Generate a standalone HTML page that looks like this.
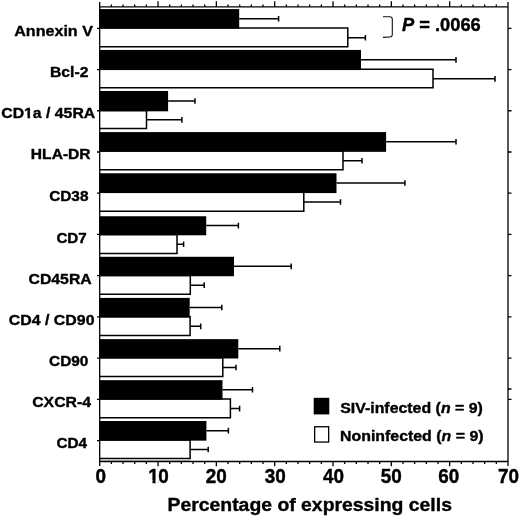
<!DOCTYPE html>
<html lang="en"><head><meta charset="utf-8"><title>Percentage of expressing cells</title>
<style>html,body{margin:0;padding:0;background:#fff;overflow:hidden}svg{display:block;will-change:transform;filter:grayscale(1)}text{font-family:"Liberation Sans",Arial,Helvetica,sans-serif;font-weight:bold;fill:#000;stroke:#000;stroke-width:0.4px;stroke-linejoin:round}</style>
</head><body>
<svg width="520" height="517" viewBox="0 0 520 517">
<rect width="520" height="517" fill="#fff"/>
<g stroke="#000" stroke-width="1.5">
<rect x="99.7" y="9.10" width="139.5" height="19.55" fill="#000" stroke="none"/>
<path d="M99.7 27.90H347.8V46.85H99.7" fill="none"/>
<path d="M239.2 18.70H278.6M278.6 15.90V21.50" fill="none"/>
<path d="M347.8 37.67H365.4M365.4 34.88V40.47" fill="none"/>
<rect x="99.7" y="49.93" width="261.3" height="20.15" fill="#000" stroke="none"/>
<path d="M99.7 69.33H433.0V87.73H99.7" fill="none"/>
<path d="M361.0 59.83H456.0M456.0 57.03V62.63" fill="none"/>
<path d="M433.0 78.83H495.0M495.0 76.03V81.63" fill="none"/>
<rect x="99.7" y="90.96" width="68.4" height="20.35" fill="#000" stroke="none"/>
<path d="M99.7 110.56H146.5V128.51H99.7" fill="none"/>
<path d="M168.1 100.96H195.0M195.0 98.16V103.76" fill="none"/>
<path d="M146.5 119.83H181.9M181.9 117.03V122.63" fill="none"/>
<rect x="99.7" y="132.09" width="286.4" height="19.75" fill="#000" stroke="none"/>
<path d="M99.7 151.09H343.0V169.84H99.7" fill="none"/>
<path d="M386.1 141.79H456.0M456.0 138.99V144.59" fill="none"/>
<path d="M343.0 160.77H362.0M362.0 157.97V163.57" fill="none"/>
<rect x="99.7" y="173.27" width="236.8" height="19.80" fill="#000" stroke="none"/>
<path d="M99.7 192.32H303.8V211.22H99.7" fill="none"/>
<path d="M336.5 182.99H404.9M404.9 180.19V185.79" fill="none"/>
<path d="M303.8 202.07H340.5M340.5 199.27V204.87" fill="none"/>
<rect x="99.7" y="216.25" width="106.5" height="19.05" fill="#000" stroke="none"/>
<path d="M99.7 234.55H177.0V253.45H99.7" fill="none"/>
<path d="M206.2 225.60H238.4M238.4 222.80V228.40" fill="none"/>
<path d="M177.0 244.30H183.6M183.6 241.50V247.10" fill="none"/>
<rect x="99.7" y="256.78" width="134.3" height="19.45" fill="#000" stroke="none"/>
<path d="M99.7 275.48H190.3V294.23H99.7" fill="none"/>
<path d="M234.0 266.33H291.2M291.2 263.53V269.13" fill="none"/>
<path d="M190.3 285.16H204.2M204.2 282.36V287.96" fill="none"/>
<rect x="99.7" y="297.91" width="90.0" height="19.55" fill="#000" stroke="none"/>
<path d="M99.7 316.71H190.1V335.41H99.7" fill="none"/>
<path d="M189.7 307.51H221.8M221.8 304.71V310.31" fill="none"/>
<path d="M190.1 326.36H200.7M200.7 323.56V329.16" fill="none"/>
<rect x="99.7" y="339.14" width="138.6" height="19.35" fill="#000" stroke="none"/>
<path d="M99.7 357.74H222.8V376.59H99.7" fill="none"/>
<path d="M238.3 348.64H279.8M279.8 345.84V351.44" fill="none"/>
<path d="M222.8 367.46H236.0M236.0 364.66V370.26" fill="none"/>
<rect x="99.7" y="380.17" width="122.8" height="19.55" fill="#000" stroke="none"/>
<path d="M99.7 398.97H230.4V417.67H99.7" fill="none"/>
<path d="M222.5 389.77H252.5M252.5 386.97V392.57" fill="none"/>
<path d="M230.4 408.62H239.6M239.6 405.82V411.42" fill="none"/>
<rect x="99.7" y="421.00" width="106.7" height="19.65" fill="#000" stroke="none"/>
<path d="M99.7 439.90H190.1V458.60H99.7" fill="none"/>
<path d="M206.4 430.65H228.4M228.4 427.85V433.45" fill="none"/>
<path d="M190.1 449.55H208.2M208.2 446.75V452.35" fill="none"/>
</g>
<rect x="99.7" y="459.20" width="90.4" height="1.70" fill="#c4c4c4"/>
<g stroke="#000" stroke-width="1.3" fill="none">
<path d="M99.7 2V466M508.0 2V466M99.7 6.9H508.0M99.7 461.5H508.0"/>
<path d="M111.37 6.9V4.4M111.37 461.5V464M123.03 6.9V4.4M123.03 461.5V464M134.70 6.9V4.4M134.70 461.5V464M146.36 6.9V4.4M146.36 461.5V464M158.03 6.9V1.2M158.03 461.5V466.3M169.69 6.9V4.4M169.69 461.5V464M181.36 6.9V4.4M181.36 461.5V464M193.03 6.9V4.4M193.03 461.5V464M204.69 6.9V4.4M204.69 461.5V464M216.36 6.9V1.2M216.36 461.5V466.3M228.02 6.9V4.4M228.02 461.5V464M239.69 6.9V4.4M239.69 461.5V464M251.35 6.9V4.4M251.35 461.5V464M263.02 6.9V4.4M263.02 461.5V464M274.69 6.9V1.2M274.69 461.5V466.3M286.35 6.9V4.4M286.35 461.5V464M298.02 6.9V4.4M298.02 461.5V464M309.68 6.9V4.4M309.68 461.5V464M321.35 6.9V4.4M321.35 461.5V464M333.01 6.9V1.2M333.01 461.5V466.3M344.68 6.9V4.4M344.68 461.5V464M356.35 6.9V4.4M356.35 461.5V464M368.01 6.9V4.4M368.01 461.5V464M379.68 6.9V4.4M379.68 461.5V464M391.34 6.9V1.2M391.34 461.5V466.3M403.01 6.9V4.4M403.01 461.5V464M414.67 6.9V4.4M414.67 461.5V464M426.34 6.9V4.4M426.34 461.5V464M438.01 6.9V4.4M438.01 461.5V464M449.67 6.9V1.2M449.67 461.5V466.3M461.34 6.9V4.4M461.34 461.5V464M473.00 6.9V4.4M473.00 461.5V464M484.67 6.9V4.4M484.67 461.5V464M496.33 6.9V4.4M496.33 461.5V464"/>
<path d="M97 28.30H99.7M508.0 28.30H511.5M97 69.53H99.7M508.0 69.53H511.5M97 110.76H99.7M508.0 110.76H511.5M97 151.99H99.7M508.0 151.99H511.5M97 193.22H99.7M508.0 193.22H511.5M97 234.45H99.7M508.0 234.45H511.5M97 275.68H99.7M508.0 275.68H511.5M97 316.91H99.7M508.0 316.91H511.5M97 358.14H99.7M508.0 358.14H511.5M97 399.37H99.7M508.0 399.37H511.5M97 440.60H99.7M508.0 389.00H511.5"/>
</g>
<g text-anchor="end">
<text transform="translate(92.9,36.40) scale(1,0.94)" font-size="16.1">Annexin V</text>
<text transform="translate(88.4,77.12) scale(1,0.94)" font-size="15.7">Bcl-2</text>
<text transform="translate(95.2,118.44) scale(1,0.94)" font-size="15.8">CD1a / 45RA</text>
<text transform="translate(90.6,159.36) scale(1,0.94)" font-size="15.6">HLA-DR</text>
<text transform="translate(88.5,200.68) scale(1,0.94)" font-size="15.4">CD38</text>
<text transform="translate(86.8,242.70) scale(1,0.94)" font-size="15.2">CD7</text>
<text transform="translate(91.7,284.32) scale(1,0.94)" font-size="15.8">CD45RA</text>
<text transform="translate(94.5,324.54) scale(1,0.94)" font-size="15.9">CD4 / CD90</text>
<text transform="translate(88.4,366.16) scale(1,0.94)" font-size="15.4">CD90</text>
<text transform="translate(91.0,406.98) scale(1,0.94)" font-size="15.8">CXCR-4</text>
<text transform="translate(87.1,448.20) scale(1,0.94)" font-size="15.3">CD4</text>
</g>
<path d="M24.2 116H27.5V119.4H24.2ZM30.17 116H33.1V119.4H30.17Z" fill="#fff"/>
<g font-size="18.9" text-anchor="middle" transform="translate(0,483.2) scale(1,1.08)">
<text x="100.80" y="0">0</text>
<text x="158.53" y="0">1<tspan dx="-0.6">0</tspan></text>
<text x="216.36" y="0">20</text>
<text x="275.29" y="0">30</text>
<text x="333.41" y="0">40</text>
<text x="391.34" y="0">50</text>
<text x="448.67" y="0">60</text>
<text x="508.60" y="0">70</text>
<path d="M148.4 -2.85H152.48V0.9H148.4ZM155.57 -2.85H158.65V0.9H155.57Z" fill="#fff"/>
</g>
<text transform="translate(167.5,511.3) scale(1,0.91)" font-size="19.4">Percentage of expressing cells</text>
<rect x="313.7" y="397.8" width="15.6" height="16.6" fill="#000"/>
<rect x="314.65" y="426.75" width="14" height="15.3" fill="#fff" stroke="#000" stroke-width="1.3"/>
<text transform="translate(340.2,413.1) scale(1,0.96)" font-size="15.9">SIV-infected (<tspan font-style="italic">n</tspan> = 9)</text>
<text transform="translate(340.0,441.3) scale(1,0.96)" font-size="15.9">Noninfected (<tspan font-style="italic">n</tspan> = 9)</text>
<path d="M383 16.8H389.8Q392.3 16.8 392.3 19.3V34.5Q392.3 36.8 389.8 37L383 37.4" fill="none" stroke="#111" stroke-width="1.1"/>
<text x="402.0" y="30.8" font-size="18.3"><tspan font-style="italic">P</tspan> = .0066</text>
</svg>
</body></html>
